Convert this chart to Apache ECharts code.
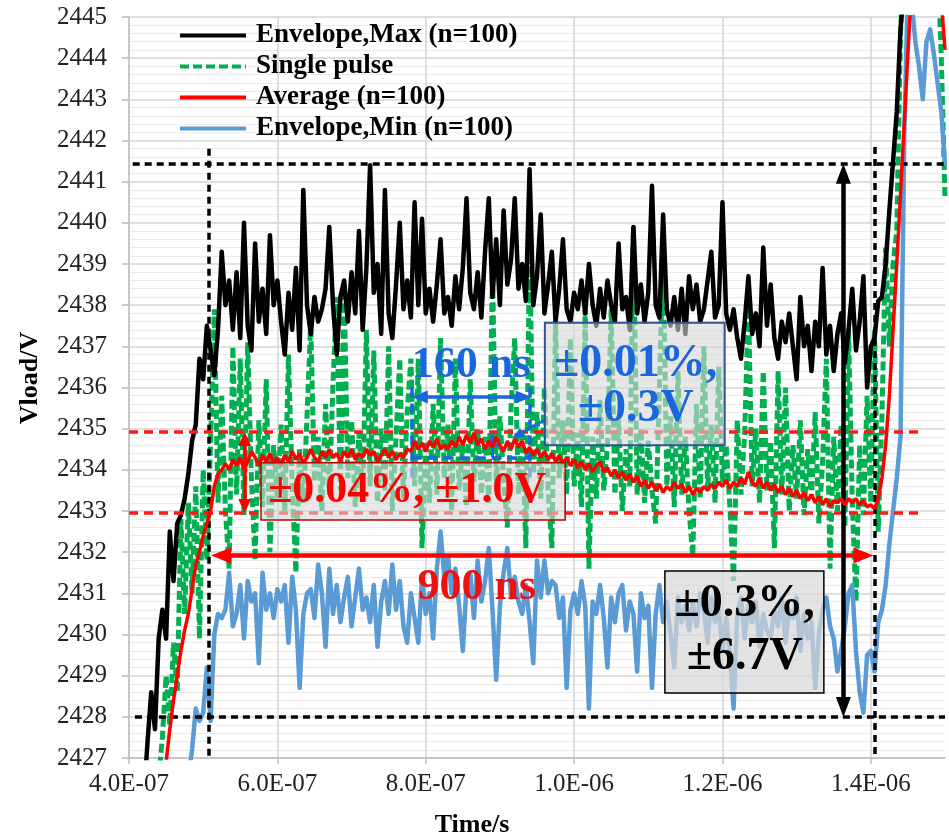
<!DOCTYPE html>
<html><head><meta charset="utf-8">
<script src="https://cdn.jsdelivr.net/npm/echarts@6/dist/echarts.min.js"></script>
<style>html,body{margin:0;padding:0;background:#fff}#main{width:949px;height:838px}</style>
</head><body><div id="main"></div>
<script>
// time step of all sampled series (ns)
const dt = 5;
const xTickLabels = [400, 600, 800, 1000, 1200, 1400];
const seriesNames = ['Envelope,Max (n=100)', 'Single pulse', 'Average (n=100)', 'Envelope,Min (n=100)'];

const maxStart = 420;
const envMax = [
2426.0,2427.4,2428.6,2427.7,2429.9,2430.6,2429.9,2432.5,2431.3,2432.7,
2432.9,2433.3,2433.9,2434.7,2435.1,2436.7,2436.2,2437.5,2436.9,2436.3,
2437.4,2439.3,2438.0,2438.6,2437.4,2438.8,2437.2,2440.0,2437.5,2436.9,
2439.5,2437.6,2438.4,2437.3,2439.7,2438.0,2438.6,2437.6,2436.8,2438.3,
2437.4,2438.9,2436.9,2440.8,2438.0,2437.3,2438.2,2437.6,2437.9,2438.4,
2439.9,2438.0,2436.8,2438.2,2438.6,2437.6,2438.8,2437.8,2439.8,2437.4,
2438.9,2441.4,2438.3,2439.0,2437.3,2440.8,2437.8,2437.2,2438.5,2440.0,
2437.9,2438.6,2437.7,2440.5,2438.0,2440.1,2437.8,2438.4,2437.6,2438.5,
2439.6,2437.8,2438.2,2437.5,2438.7,2437.9,2438.9,2440.6,2438.3,2437.9,
2438.8,2437.7,2439.3,2440.6,2438.2,2439.6,2438.0,2440.3,2438.5,2439.1,
2440.6,2438.4,2439.0,2438.1,2441.3,2438.0,2438.7,2440.2,2437.8,2438.5,
2439.3,2437.6,2438.4,2439.6,2437.9,2437.6,2438.3,2437.9,2438.6,2437.8,
2439.0,2438.0,2437.5,2438.4,2437.7,2438.6,2438.0,2437.6,2439.5,2437.9,
2438.2,2437.4,2439.9,2437.8,2438.5,2437.6,2438.3,2440.9,2438.0,2437.7,
2440.2,2437.9,2437.5,2438.2,2437.4,2438.4,2437.3,2438.7,2437.9,2438.5,
2437.6,2437.9,2438.6,2439.3,2437.7,2438.0,2440.5,2437.8,2437.4,2437.9,
2437.2,2436.7,2437.6,2438.7,2437.3,2437.8,2437.0,2439.4,2437.5,2438.5,
2437.2,2436.7,2437.6,2437.1,2437.8,2437.0,2436.2,2438.2,2437.0,2437.5,
2436.4,2437.6,2437.0,2438.9,2436.8,2437.5,2436.4,2437.3,2437.8,2436.6,
2437.4,2438.4,2436.9,2437.6,2438.7,2436.0,2437.0,2437.2,2438.1,2438.2,
2439.0,2440.3,2441.5,2442.7,2444.7,2445.8,2446.5,2447.0
];

const pulseStart = 440;
const singlePulse = [
2426.5,2427.5,2429.0,2427.8,2429.8,2428.6,2432.8,2430.5,2433.2,2431.0,
2433.6,2429.9,2434.0,2431.8,2434.7,2437.9,2433.2,2435.8,2433.0,2431.6,
2437.0,2433.4,2436.7,2432.9,2437.1,2433.8,2431.8,2435.2,2433.1,2436.2,
2432.0,2434.6,2433.3,2435.1,2433.0,2436.8,2433.6,2431.5,2434.5,2433.2,
2435.3,2437.6,2433.7,2434.8,2433.0,2435.6,2433.4,2436.1,2438.2,2433.5,
2438.4,2433.8,2435.2,2433.1,2434.9,2433.4,2437.4,2433.6,2436.9,2433.2,
2435.0,2433.5,2437.0,2433.0,2434.8,2436.7,2433.3,2435.4,2436.7,2433.6,
2436.7,2432.1,2434.7,2433.2,2435.6,2433.4,2437.2,2433.8,2435.1,2433.0,
2436.7,2433.5,2434.6,2433.1,2436.2,2433.7,2435.0,2433.4,2434.8,2433.2,
2438.9,2433.6,2435.3,2433.8,2432.6,2435.5,2437.2,2433.4,2435.0,2432.1,
2439.6,2433.9,2435.4,2433.3,2436.0,2433.5,2432.1,2437.6,2433.8,2435.2,
2433.4,2437.2,2433.6,2434.9,2433.1,2437.9,2431.6,2434.8,2433.3,2435.7,
2433.5,2434.6,2437.9,2433.4,2435.2,2433.0,2434.5,2433.6,2439.9,2433.4,
2435.0,2433.2,2434.7,2433.5,2432.7,2436.0,2439.5,2433.6,2435.3,2433.1,
2436.4,2433.4,2434.8,2433.0,2431.9,2435.6,2433.3,2437.0,2433.5,2435.1,
2433.2,2436.5,2433.7,2434.6,2433.1,2431.3,2435.2,2433.4,2434.9,2438.1,
2433.6,2435.0,2433.2,2436.4,2433.5,2434.7,2432.1,2436.4,2433.4,2436.0,
2433.0,2434.6,2433.3,2435.2,2432.9,2434.5,2433.3,2435.4,2432.7,2434.2,
2436.7,2431.6,2434.8,2433.0,2435.1,2432.6,2437.4,2433.2,2430.8,2434.6,
2432.9,2435.8,2433.2,2437.4,2432.5,2435.3,2439.4,2437.0,2439.0,2439.8,
2444.6,2446.5,2446.8,2446.8,2446.8,2446.8,2446.8,2446.8,2446.8,2446.8,
2446.5,2444.0,2440.6
];

const avgStart = 450;
const average = [
2426.9,2427.7,2428.4,2429.0,2429.6,2430.1,2430.5,2431.1,2431.7,2432.0,
2432.4,2432.7,2433.0,2433.6,2433.9,2434.0,2434.15,2434.0,2434.25,2434.1,
2434.3,2434.0,2434.2,2434.45,2434.3,2434.1,2434.35,2434.2,2434.4,2434.15,
2434.3,2434.1,2434.35,2434.2,2434.45,2434.25,2434.4,2434.15,2434.3,2434.5,
2434.3,2434.2,2434.45,2434.3,2434.5,2434.3,2434.4,2434.2,2434.45,2434.3,
2434.5,2434.25,2434.4,2434.3,2434.5,2434.35,2434.45,2434.2,2434.35,2434.5,
2434.3,2434.45,2434.25,2434.4,2434.3,2434.5,2434.45,2434.7,2434.5,2434.65,
2434.45,2434.7,2434.55,2434.75,2434.5,2434.6,2434.5,2434.7,2434.55,2434.8,
2434.6,2434.85,2434.65,2434.9,2434.6,2434.75,2434.5,2434.7,2434.55,2434.8,
2434.6,2434.45,2434.7,2434.5,2434.75,2434.55,2434.7,2434.4,2434.55,2434.35,
2434.5,2434.3,2434.45,2434.25,2434.4,2434.2,2434.35,2434.15,2434.3,2434.1,
2434.25,2434.05,2434.2,2434.0,2434.15,2433.95,2434.1,2434.2,2433.95,2434.05,
2433.85,2434.0,2433.8,2433.95,2433.75,2433.9,2433.7,2433.85,2433.6,2433.75,
2433.55,2433.7,2433.5,2433.65,2433.45,2433.6,2433.5,2433.7,2433.55,2433.65,
2433.45,2433.6,2433.4,2433.55,2433.45,2433.6,2433.5,2433.65,2433.55,2433.7,
2433.6,2433.75,2433.55,2433.7,2433.6,2433.8,2433.65,2433.95,2433.7,2433.6,
2433.8,2433.55,2433.7,2433.5,2433.65,2433.45,2433.6,2433.4,2433.55,2433.35,
2433.5,2433.3,2433.45,2433.25,2433.4,2433.2,2433.35,2433.15,2433.3,2433.1,
2433.25,2433.2,2433.3,2433.15,2433.3,2433.2,2433.3,2433.15,2433.25,2433.1,
2433.15,2433.05,2433.3,2433.8,2434.6,2435.8,2437.4,2439.0,2440.7,2442.4,
2444.1,2445.8,2446.5,2446.8,2446.8,2446.8,2446.8,2446.6,2446.2,2445.4,
2444.2
];

const minStart = 480;
const envMin = [
2426.5,2427.2,2428.2,2427.9,2428.1,2429.2,2427.9,2430.0,2430.5,2430.4,
2430.6,2431.5,2430.2,2430.5,2431.2,2429.9,2431.3,2430.8,2431.0,2429.3,
2431.5,2430.6,2431.0,2430.4,2431.1,2430.8,2431.2,2429.8,2431.4,2430.6,
2428.7,2430.5,2431.0,2431.1,2430.4,2431.7,2431.0,2429.7,2431.6,2430.5,
2431.2,2430.3,2430.9,2431.4,2430.2,2430.9,2431.6,2430.6,2430.9,2430.3,
2431.2,2429.7,2430.8,2431.3,2430.5,2431.7,2430.6,2431.3,2430.2,2429.8,
2431.0,2430.4,2429.8,2431.4,2430.5,2431.0,2429.9,2431.6,2432.5,2431.4,
2431.9,2431.0,2431.6,2430.7,2429.6,2431.2,2431.5,2430.4,2431.8,2430.8,
2431.3,2432.1,2430.6,2428.9,2430.7,2431.5,2432.1,2430.9,2431.4,2430.8,
2430.5,2431.2,2430.3,2429.3,2431.8,2430.9,2431.8,2431.0,2431.3,2431.2,
2430.4,2430.9,2428.7,2430.6,2431.0,2430.5,2431.3,2430.7,2428.2,2430.8,
2430.5,2431.2,2430.4,2429.2,2430.9,2430.3,2431.0,2431.2,2430.1,2430.8,
2430.5,2429.1,2431.0,2430.4,2430.7,2428.7,2430.5,2431.2,2430.3,2430.8,
2430.0,2429.2,2430.9,2430.3,2430.7,2430.1,2430.8,2430.2,2431.0,2430.6,
2429.8,2430.9,2430.3,2430.6,2429.6,2430.4,2429.5,2428.2,2430.5,2430.9,
2429.9,2430.7,2430.3,2430.8,2429.7,2430.5,2430.1,2429.9,2430.6,2430.2,
2430.9,2429.8,2430.6,2430.4,2430.9,2429.6,2430.5,2429.9,2430.3,2428.7,
2430.0,2430.6,2430.9,2430.2,2429.9,2429.1,2429.6,2430.2,2431.0,2431.2,
2429.6,2428.6,2428.1,2429.5,2429.6,2429.1,2430.3,2430.6,2431.2,2432.2,
2433.0,2433.8,2434.8,2442.0,2445.8,2445.4,2444.4,2443.8,2443.0,2444.4,
2444.7,2444.1,2443.4,2442.7,2441.4
];

const toPairs = (start, arr) => arr.map((v, i) => [start + i * dt, v]);

function sci(v) {
  const s = v * 1e-9;
  const e = Math.floor(Math.log10(s) + 1e-9);
  const m = s / Math.pow(10, e);
  return m.toFixed(1) + 'E' + (e < 0 ? '-' : '+') + String(Math.abs(e)).padStart(2, '0');
}

const FONT = "'Liberation Serif','Times New Roman',serif";

function seg(a, b, color, width, type, s1, s2, size) {
  const p1 = {coord: a, symbol: s1 || 'none', symbolSize: size || 10,
    lineStyle: {color: color, width: width, type: type || 'solid'}};
  const p2 = {coord: b, symbol: s2 || 'none', symbolSize: size || 10};
  return [p1, p2];
}

const BLK_DASH = [7, 5], RED_DASH = [9, 6], BLU_DASH = [10, 6];
const BLUE_A = '#1a66dd';
const markLines = [
  seg([405, 2441.43], [1500, 2441.43], '#000', 3.5, BLK_DASH),
  seg([408, 2428.0], [1500, 2428.0], '#000', 3.5, BLK_DASH),
  seg([507.8, 2441.8], [507.8, 2427], '#000', 3.5, BLK_DASH),
  seg([1405, 2441.84], [1405, 2427], '#000', 3.5, BLK_DASH),
  seg([400, 2434.92], [1466, 2434.92], '#ff1a1a', 3.5, RED_DASH),
  seg([400, 2432.95], [1466, 2432.95], '#ff1a1a', 3.5, RED_DASH),
  seg([556, 2434.75], [556, 2433.12], '#ff0000', 3.5, 'solid', 'triangle', 'triangle', [13, 14]),
  seg([524, 2431.92], [1390, 2431.92], '#ff0000', 4.5, 'solid', 'triangle', 'triangle', [16, 20]),
  seg([1363, 2441.19], [1363, 2428.24], '#000', 4.5, 'solid', 'triangle', 'triangle', [15, 20]),
  seg([792, 2435.77], [932, 2435.77], BLUE_A, 3.5, 'solid', 'triangle', 'triangle', [13, 16]),
  seg([781, 2436.0], [781, 2433.7], BLUE_A, 3.5, BLU_DASH),
  seg([940, 2436.0], [940, 2433.7], BLUE_A, 3.5, BLU_DASH),
  seg([781, 2434.3], [940, 2434.3], BLUE_A, 3.5, BLU_DASH),
  seg([890, 2434.31], [890, 2434.73], BLUE_A, 3, 'solid', 'none', 'triangle', [12, 14]),
  seg([960.6, 2435.21], [923.2, 2434.84], BLUE_A, 2.5, 'solid', 'none', 'triangle', [10, 12])
];

const chart = echarts.init(document.getElementById('main'));
const option = {
  animation: false,
  backgroundColor: '#fff',
  grid: {left: 129, top: 17, right: 4, bottom: 80, outerBoundsMode: 'none'},
  legend: {
    orient: 'vertical', left: 178, top: 20, padding: 0, itemGap: 0,
    itemWidth: 66, itemHeight: 14,
    data: seriesNames,
    lineStyle: {width: 4},
    itemStyle: {color: 'rgba(0,0,0,0)', borderColor: 'rgba(0,0,0,0)', borderWidth: 0},
    textStyle: {fontFamily: FONT, fontWeight: 'bold', fontSize: 27, color: '#000', lineHeight: 31, padding: [0, 0, 0, 5]}
  },
  xAxis: {
    type: 'value', min: 400, max: 1500, interval: 40,
    axisLine: {onZero: false, lineStyle: {color: '#bfbfbf', width: 1.5}},
    axisTick: {length: 6, lineStyle: {color: '#bfbfbf', width: 1.5}, customValues: xTickLabels},
    axisLabel: {customValues: xTickLabels, fontFamily: FONT, fontSize: 25, color: '#222', margin: 14,
      formatter: v => (xTickLabels.indexOf(Math.round(v)) >= 0 ? sci(v) : '')},
    splitLine: {show: true, lineStyle: {color: '#d4d4d4', width: 1.5}}
  },
  yAxis: {
    type: 'value', min: 2427, max: 2445, interval: 1,
    axisLine: {show: true, onZero: false, lineStyle: {color: '#bfbfbf', width: 1.5}},
    axisTick: {show: true, length: 7, lineStyle: {color: '#bfbfbf', width: 1.5}},
    axisLabel: {fontFamily: FONT, fontSize: 25, color: '#222', margin: 22, formatter: v => String(Math.round(v))},
    splitLine: {show: true, lineStyle: {color: '#d4d4d4', width: 1.5}},
    minorTick: {show: false, splitNumber: 5},
    minorSplitLine: {show: true, lineStyle: {color: '#ebebeb', width: 1}}
  },
  series: [
    {name: seriesNames[0], type: 'line', symbol: 'none', z: 3, data: toPairs(maxStart, envMax),
      lineStyle: {color: '#000', width: 4.5, join: 'round'}, itemStyle: {color: '#000'}},
    {name: seriesNames[1], type: 'line', symbol: 'none', z: 2, data: toPairs(pulseStart, singlePulse),
      lineStyle: {color: '#00b050', width: 5, type: [9, 4]}, itemStyle: {color: '#00b050'}},
    {name: seriesNames[2], type: 'line', symbol: 'none', z: 5, data: toPairs(avgStart, average),
      lineStyle: {color: '#ff0000', width: 3.5}, itemStyle: {color: '#ff0000'},
      markLine: {silent: true, animation: false, label: {show: false}, data: markLines}},
    {name: seriesNames[3], type: 'line', symbol: 'none', z: 4, data: toPairs(minStart, envMin),
      lineStyle: {color: '#5b9bd5', width: 4.5, join: 'round'}, itemStyle: {color: '#5b9bd5'}}
  ]
};
chart.setOption(option);

const P = (t, v) => chart.convertToPixel({xAxisIndex: 0, yAxisIndex: 0}, [t, v]);
function box(t1, v1, t2, v2, stroke, fill, lw) {
  const a = P(t1, v1), b = P(t2, v2);
  return {type: 'rect', z: 100, silent: true,
    shape: {x: a[0], y: a[1], width: b[0] - a[0], height: b[1] - a[1]},
    style: {fill: fill, stroke: stroke, lineWidth: lw}};
}
function txt(t, v, s, color, size) {
  const p = P(t, v);
  return {type: 'text', z: 101, silent: true, x: p[0], y: p[1],
    style: {text: s, fill: color, font: 'bold ' + size + 'px ' + FONT, textAlign: 'center', textVerticalAlign: 'middle'}};
}
const graphics = [
  box(578, 2434.17, 988, 2432.78, '#c00000', 'rgba(215,215,215,0.6)', 1.5),
  txt(775, 2433.49, '±0.04%, ±1.0V', '#ff0000', 44),
  box(960.6, 2437.57, 1203, 2434.6, '#2f5597', 'rgba(215,215,215,0.6)', 2),
  txt(1083, 2436.57, '±0.01%,', BLUE_A, 46),
  txt(1083, 2435.48, '±0.3V', BLUE_A, 46),
  box(1122.4, 2431.54, 1336.7, 2428.58, '#000', 'rgba(215,215,215,0.7)', 1.5),
  txt(1230, 2430.74, '±0.3%,', '#000', 46),
  txt(1230, 2429.45, '±6.7V', '#000', 46),
  txt(861, 2436.52, '160 ns', BLUE_A, 44),
  txt(869, 2431.13, '900 ns', '#ee1111', 44),
  {type: 'text', z: 101, silent: true, x: 30, y: 378, rotation: Math.PI / 2,
    style: {text: 'Vload/V', fill: '#000', font: 'bold 26px ' + FONT, textAlign: 'center', textVerticalAlign: 'middle'}},
  {type: 'text', z: 101, silent: true, x: 472, y: 825,
    style: {text: 'Time/s', fill: '#000', font: 'bold 26px ' + FONT, textAlign: 'center', textVerticalAlign: 'middle'}}
];
chart.setOption({graphic: graphics});
</script></body></html>
